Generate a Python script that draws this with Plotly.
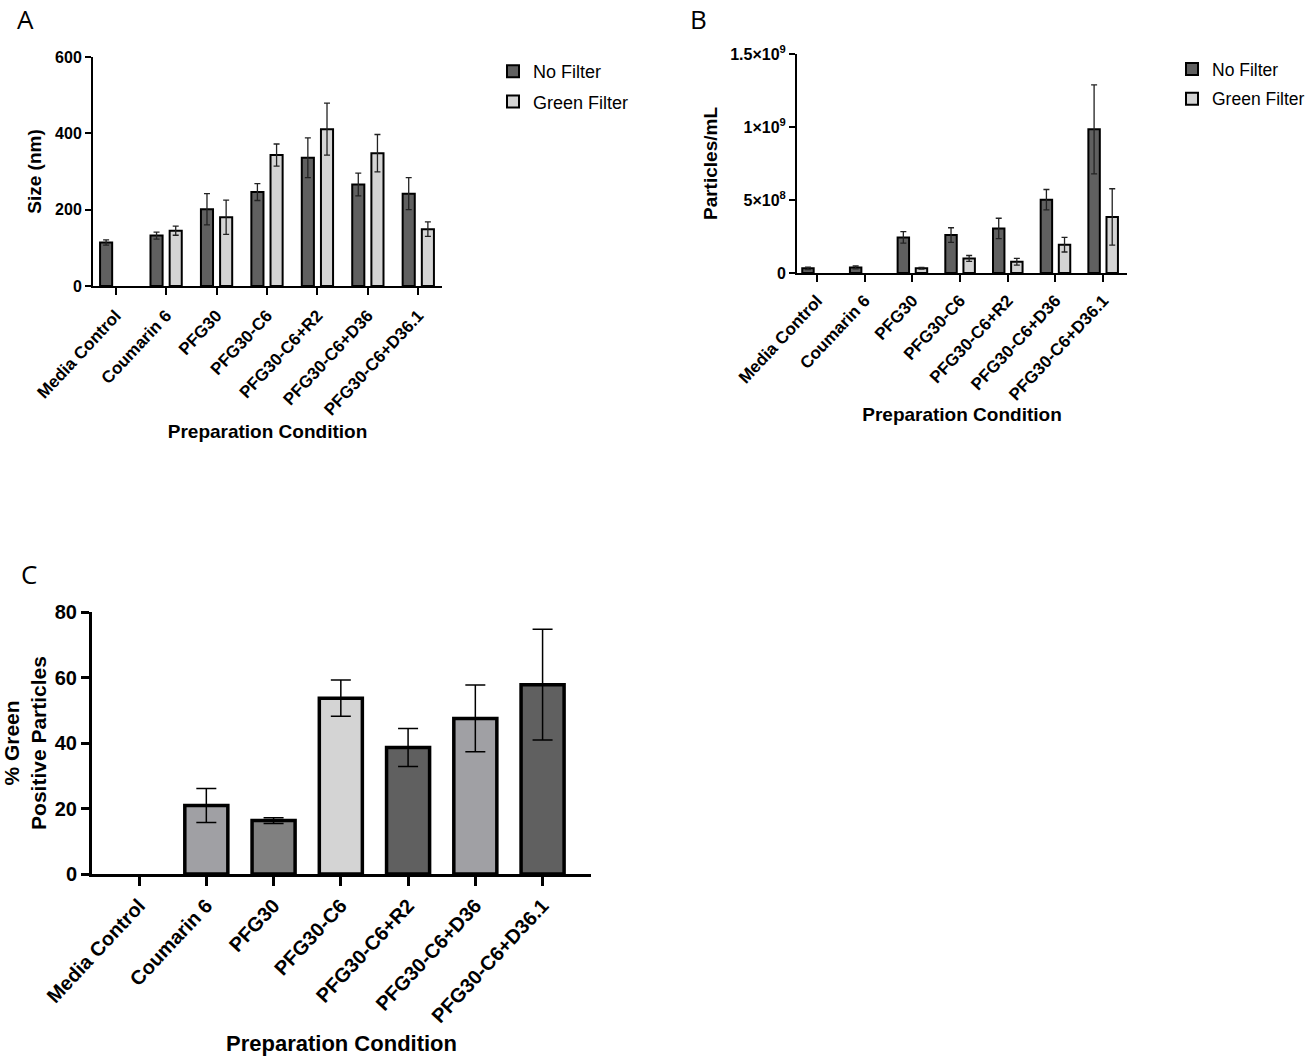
import plotly.graph_objects as go

conditions = [
    "Media Control",
    "Coumarin 6",
    "PFG30",
    "PFG30-C6",
    "PFG30-C6+R2",
    "PFG30-C6+D36",
    "PFG30-C6+D36.1",
]

# panel A - size (nm)
size_no_filter = [114, 132, 201, 246, 336, 266, 242]
size_no_filter_sd = [7, 9, 41, 22, 52, 30, 42]
size_green = [None, 145, 180, 343, 411, 348, 149]
size_green_sd = [0, 12, 45, 29, 68, 49, 19]

# panel B - particles/mL
conc_no_filter = [3.2e7, 3.8e7, 2.44e8, 2.6e8, 3.05e8, 5.02e8, 9.84e8]
conc_no_filter_sd = [8e6, 1e7, 4e7, 5e7, 7e7, 7e7, 3.05e8]
conc_green = [None, None, 3.2e7, 1.0e8, 7.7e7, 1.94e8, 3.84e8]
conc_green_sd = [0, 0, 6e6, 2e7, 2.3e7, 5e7, 1.93e8]

# panel C - % green positive
pct_green = [None, 20.9, 16.3, 53.7, 38.6, 47.5, 57.8]
pct_green_sd = [0, 5.2, 0.9, 5.5, 5.8, 10.2, 16.9]
pct_colors = ["#a0a0a4", "#a0a0a4", "#808080", "#d4d4d4", "#606060", "#a0a0a4", "#606060"]

conc_ticks = [0, 5e8, 1e9, 1.5e9]
conc_ticktext = ["0", "5×10<sup>8</sup>", "1×10<sup>9</sup>", "1.5×10<sup>9</sup>"]

W, H = 1310, 1056
DARK = "#606060"
LIGHT = "#d4d4d4"
FONT = "Liberation Sans, Arial"


def px(x):
    return x / W


def py(y):
    return 1 - y / H


def xd(a, b):
    return [px(a), px(b)]


def yd(top, bottom):
    return [py(bottom), py(top)]


def bold(size):
    return dict(family=FONT, size=size, color="black", weight="bold")


fig = go.Figure()


def add_pair(xa, ya, nf, nf_sd, gr, gr_sd, legend):
    fig.add_trace(go.Bar(
        x=conditions, y=nf, name="No Filter", xaxis=xa, yaxis=ya,
        width=0.24, offset=-0.31, legend=legend, legendgroup=legend + "nf",
        marker=dict(color=DARK, line=dict(color="black", width=2)),
        error_y=dict(type="data", array=nf_sd, color="#222", thickness=1.3, width=3),
    ))
    fig.add_trace(go.Bar(
        x=conditions, y=gr, name="Green Filter", xaxis=xa, yaxis=ya,
        width=0.24, offset=0.07, legend=legend, legendgroup=legend + "gr",
        marker=dict(color=LIGHT, line=dict(color="black", width=2)),
        error_y=dict(type="data", array=gr_sd, color="#222", thickness=1.3, width=3),
    ))


add_pair("x", "y", size_no_filter, size_no_filter_sd, size_green, size_green_sd, "legend")
add_pair("x2", "y2", conc_no_filter, conc_no_filter_sd, conc_green, conc_green_sd, "legend2")

fig.add_trace(go.Bar(
    x=conditions, y=pct_green, xaxis="x3", yaxis="y3", width=0.64,
    showlegend=False,
    marker=dict(color=pct_colors, line=dict(color="black", width=3.5)),
    error_y=dict(type="data", array=pct_green_sd, color="black", thickness=1.5, width=10),
))

ax_common = dict(showline=True, linecolor="black", ticks="outside", tickcolor="black",
                 showgrid=False, zeroline=False, automargin=False)

fig.update_layout(
    template="none",
    width=W, height=H,
    margin=dict(l=0, r=0, t=0, b=0),
    paper_bgcolor="white", plot_bgcolor="white",
    barmode="overlay",
    xaxis=dict(domain=xd(93, 442), anchor="y", type="category", range=[-0.45, 6.47],
               linewidth=2, tickwidth=2, ticklen=7, tickangle=-47, ticklabelstandoff=4,
               tickfont=bold(17),
               title=dict(text="Preparation Condition", font=bold(19), standoff=6),
               **ax_common),
    yaxis=dict(domain=yd(57, 286), anchor="x", range=[0, 600], tickvals=[0, 200, 400, 600],
               linewidth=2, tickwidth=2, ticklen=6,
               tickfont=bold(16),
               title=dict(text="Size (nm)", font=bold(19), standoff=8),
               **ax_common),
    xaxis2=dict(domain=xd(797, 1127), anchor="y2", type="category", range=[-0.42, 6.5],
                linewidth=2, tickwidth=2, ticklen=7, tickangle=-47, ticklabelstandoff=2,
                tickfont=bold(17),
                title=dict(text="Preparation Condition", font=bold(19), standoff=1),
                **ax_common),
    yaxis2=dict(domain=yd(54, 273), anchor="x2", range=[0, 1.5e9],
                tickvals=conc_ticks, ticktext=conc_ticktext,
                linewidth=2, tickwidth=2, ticklen=6,
                tickfont=bold(16),
                title=dict(text="Particles/mL", font=bold(19), standoff=8),
                **ax_common),
    xaxis3=dict(domain=xd(92, 591), anchor="y3", type="category", range=[-0.7, 6.72],
                linewidth=3, tickwidth=3, ticklen=9, tickangle=-47,
                tickfont=bold(20),
                title=dict(text="Preparation Condition", font=bold(22), standoff=15),
                **ax_common),
    yaxis3=dict(domain=yd(612, 874), anchor="x3", range=[0, 80], tickvals=[0, 20, 40, 60, 80],
                linewidth=3, tickwidth=3, ticklen=8,
                tickfont=bold(20),
                title=dict(text="% Green<br>Positive Particles", font=bold(21), standoff=19),
                **ax_common),
    legend=dict(x=px(493), y=py(53), xanchor="left", yanchor="top", tracegroupgap=4,
                font=dict(family=FONT, size=18, color="black"), bgcolor="rgba(0,0,0,0)"),
    legend2=dict(x=px(1172), y=py(51), xanchor="left", yanchor="top", tracegroupgap=4,
                 font=dict(family=FONT, size=17.5, color="black"), bgcolor="rgba(0,0,0,0)"),
    annotations=[
        dict(text="A", x=px(16), y=py(0), xref="paper", yref="paper", xanchor="left", yanchor="top",
             borderpad=0, showarrow=False, font=dict(family="Open Sans", size=26, color="black")),
        dict(text="B", x=px(689), y=py(0), xref="paper", yref="paper", xanchor="left", yanchor="top",
             borderpad=0, showarrow=False, font=dict(family="Open Sans", size=26, color="black")),
        dict(text="C", x=px(20), y=py(555), xref="paper", yref="paper", xanchor="left", yanchor="top",
             borderpad=0, showarrow=False, font=dict(family="Open Sans", size=26, color="black")),
    ],
)

# drop the default body margin so the figure sits at the page corner
fig.write_html("out.html", config={"displayModeBar": False},
               post_script="document.body.style.margin='0';")
